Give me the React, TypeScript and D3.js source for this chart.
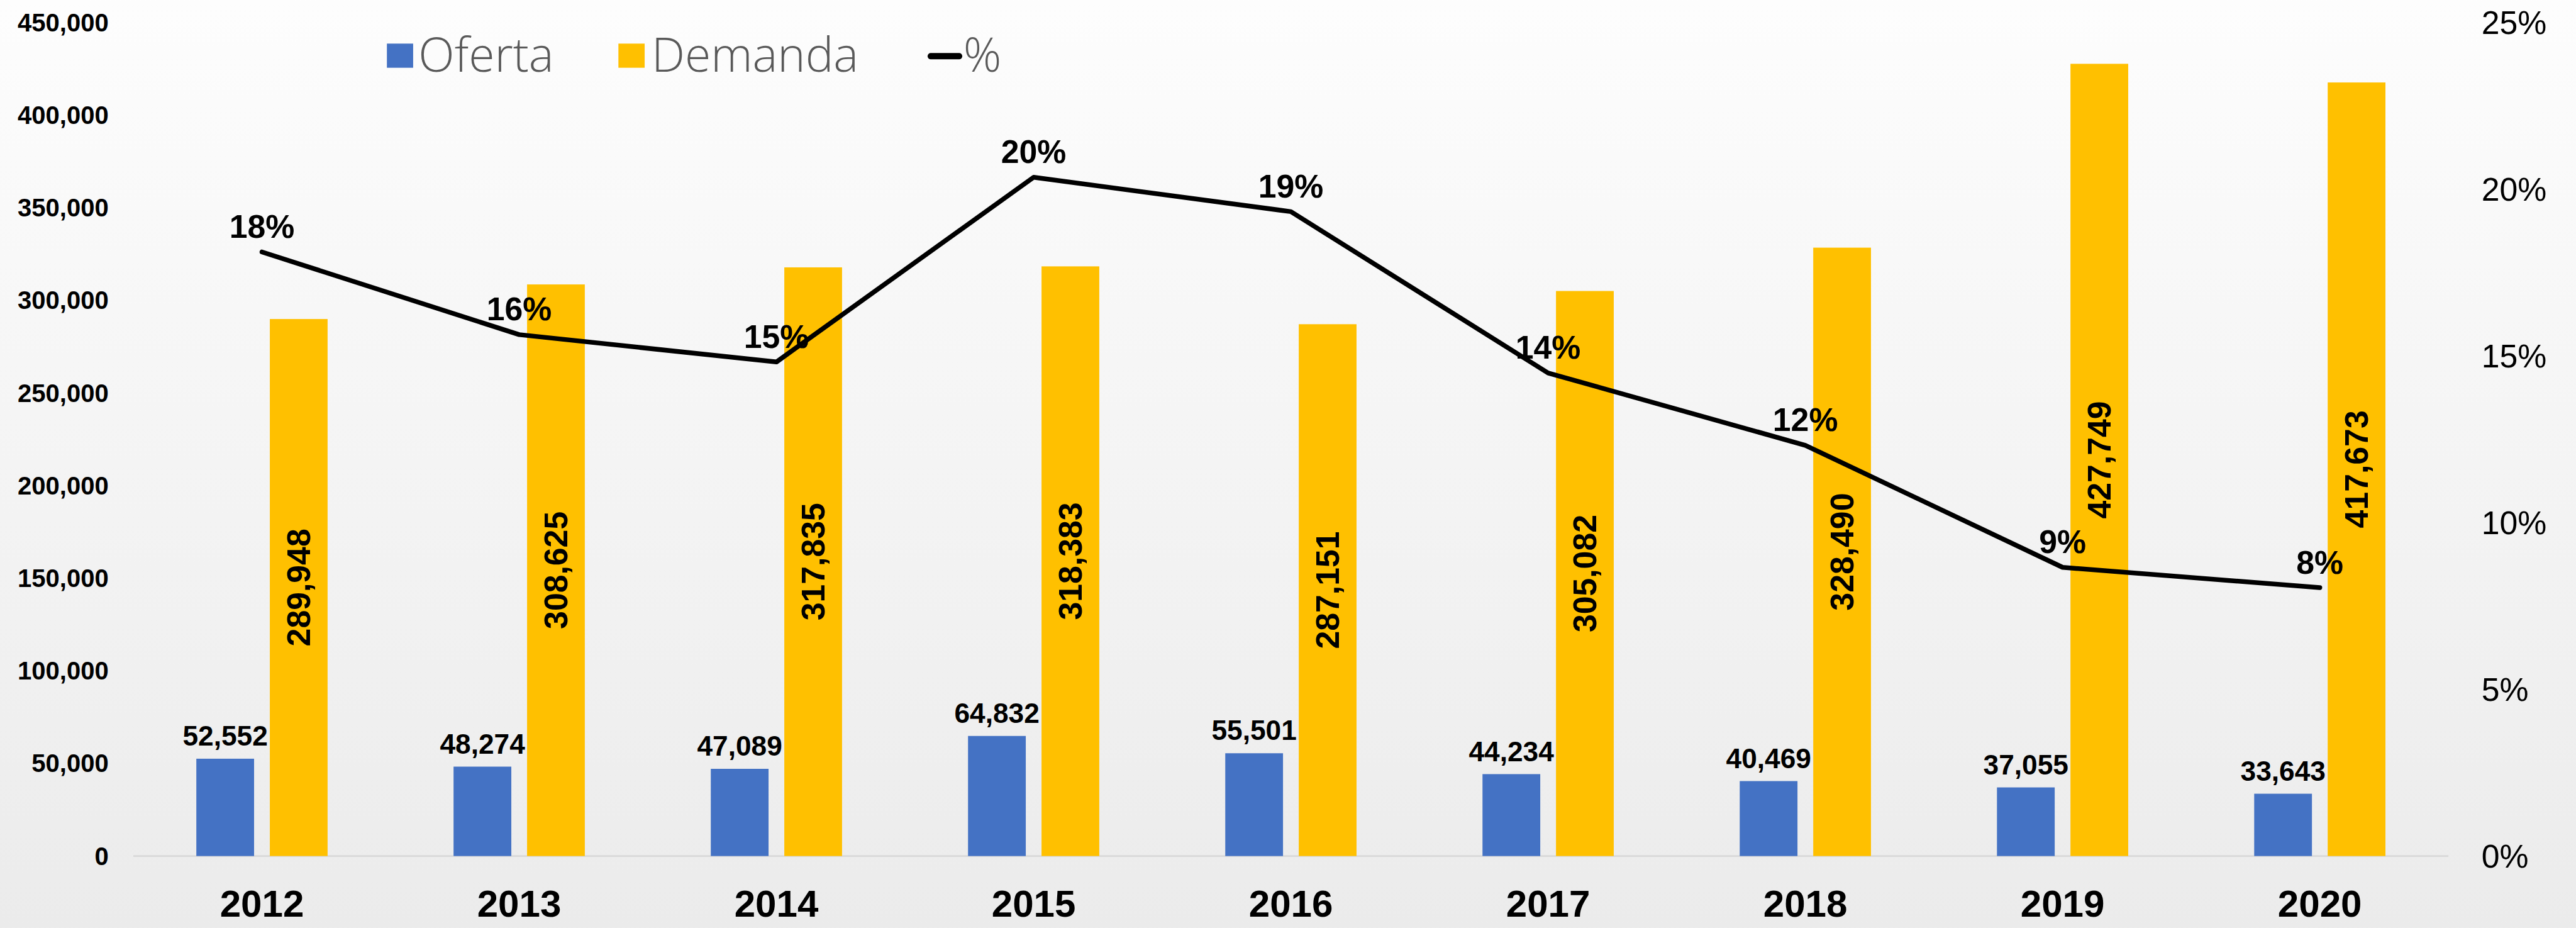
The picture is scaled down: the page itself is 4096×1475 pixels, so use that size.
import React, { useEffect, useRef } from "react";
import * as d3 from "d3";

// values
const years = ["2012", "2013", "2014", "2015", "2016", "2017", "2018", "2019", "2020"];
const oferta = [52552, 48274, 47089, 64832, 55501, 44234, 40469, 37055, 33643];
const demanda = [289948, 308625, 317835, 318383, 287151, 305082, 328490, 427749, 417673];
const pct = [0.1812, 0.1564, 0.1482, 0.2036, 0.1933, 0.1449, 0.1232, 0.0866, 0.0805];
const leftTicks = [0, 50000, 100000, 150000, 200000, 250000, 300000, 350000, 400000, 450000];
const rightTicks = [0, 0.05, 0.1, 0.15, 0.2, 0.25];
const seriesNames = ["Oferta", "Demanda"];
const colors = { Oferta: "#4472C4", Demanda: "#FFC000" };

const W = 4907, H = 1767;

export default function App() {
  const ref = useRef<SVGSVGElement>(null);

  useEffect(() => {
    const svg = d3.select(ref.current);
    svg.selectAll("*").remove();

    const left = 254, right = 4664, bottom = 1630, top = 43;

    const defs = svg.append("defs");
    const grad = defs.append("linearGradient").attr("id", "bg").attr("x1", 0).attr("y1", 0).attr("x2", 0).attr("y2", 1);
    grad.append("stop").attr("offset", "0%").attr("stop-color", "#fdfdfd");
    grad.append("stop").attr("offset", "100%").attr("stop-color", "#ebebeb");
    svg.append("rect").attr("width", W).attr("height", H).attr("fill", "url(#bg)");

    const x = d3.scaleBand().domain(years).range([left, right]);
    const xi = d3.scaleBand().domain(seriesNames).range([0, x.bandwidth()])
      .paddingInner(0.2143).paddingOuter(0.857);
    const y = d3.scaleLinear().domain([0, 450000]).range([bottom, top]);
    const yr = d3.scaleLinear().domain([0, 0.25]).range([bottom, top]);
    const fmt = d3.format(",");
    const pfmt = d3.format(".0%");

    // left axis labels
    svg.append("g").selectAll("text").data(leftTicks).join("text")
      .attr("x", 207).attr("y", d => y(d))
      .attr("text-anchor", "end").attr("dominant-baseline", "central")
      .attr("font-family", "Liberation Sans, Arial, sans-serif").attr("font-weight", "bold")
      .attr("font-size", 48).attr("fill", "#000")
      .text(d => fmt(d));

    // right axis labels
    svg.append("g").selectAll("text").data(rightTicks).join("text")
      .attr("x", 4727).attr("y", d => yr(d))
      .attr("dominant-baseline", "central")
      .attr("font-family", "Liberation Sans, Arial, sans-serif")
      .attr("font-size", 62).attr("fill", "#000")
      .text(d => pfmt(d));

    // baseline
    svg.append("line").attr("x1", left).attr("x2", right).attr("y1", bottom).attr("y2", bottom)
      .attr("stroke", "#d9d9d9").attr("stroke-width", 3);

    const groups = svg.append("g").selectAll("g").data(years).join("g")
      .attr("transform", d => `translate(${x(d)},0)`);

    // oferta bars + labels
    groups.append("rect")
      .attr("x", xi("Oferta")!).attr("width", xi.bandwidth())
      .attr("y", (d, i) => y(oferta[i])).attr("height", (d, i) => bottom - y(oferta[i]))
      .attr("fill", colors.Oferta);
    groups.append("text")
      .attr("x", xi("Oferta")! + xi.bandwidth() / 2).attr("y", (d, i) => y(oferta[i]) - 25)
      .attr("text-anchor", "middle")
      .attr("font-family", "Liberation Sans, Arial, sans-serif").attr("font-weight", "bold")
      .attr("font-size", 53).attr("fill", "#000")
      .text((d, i) => fmt(oferta[i]));

    // demanda bars + rotated labels
    groups.append("rect")
      .attr("x", xi("Demanda")!).attr("width", xi.bandwidth())
      .attr("y", (d, i) => y(demanda[i])).attr("height", (d, i) => bottom - y(demanda[i]))
      .attr("fill", colors.Demanda);
    groups.append("text")
      .attr("transform", (d, i) => {
        const cx = xi("Demanda")! + xi.bandwidth() / 2;
        const cy = (y(demanda[i]) + bottom) / 2;
        return `translate(${cx},${cy}) rotate(-90)`;
      })
      .attr("text-anchor", "middle").attr("dominant-baseline", "central")
      .attr("font-family", "Liberation Sans, Arial, sans-serif").attr("font-weight", "bold")
      .attr("font-size", 62).attr("fill", "#000")
      .text((d, i) => fmt(demanda[i]));

    // percent line
    const cx = (d: string) => x(d)! + x.bandwidth() / 2;
    const line = d3.line<number>().x((d, i) => cx(years[i])).y(d => yr(d));
    svg.append("path").datum(pct).attr("d", line)
      .attr("fill", "none").attr("stroke", "#000").attr("stroke-width", 9)
      .attr("stroke-linejoin", "round").attr("stroke-linecap", "round");
    svg.append("g").selectAll("text").data(pct).join("text")
      .attr("x", (d, i) => cx(years[i])).attr("y", d => yr(d) - 27)
      .attr("text-anchor", "middle")
      .attr("font-family", "Liberation Sans, Arial, sans-serif").attr("font-weight", "bold")
      .attr("font-size", 62).attr("fill", "#000")
      .text(d => pfmt(d));

    // year labels
    svg.append("g").selectAll("text").data(years).join("text")
      .attr("x", d => cx(d)).attr("y", 1745)
      .attr("text-anchor", "middle")
      .attr("font-family", "Liberation Sans, Arial, sans-serif").attr("font-weight", "bold")
      .attr("font-size", 72).attr("fill", "#000")
      .text(d => d);

    // legend
    const lg = svg.append("g").attr("font-family", "Open Sans, sans-serif").attr("font-weight", 300)
      .attr("font-size", 90).attr("fill", "#595959");
    lg.append("rect").attr("x", 737).attr("y", 83).attr("width", 50).attr("height", 46).attr("fill", colors.Oferta);
    lg.append("text").attr("x", 797).attr("y", 136).text("Oferta");
    lg.append("rect").attr("x", 1178).attr("y", 83).attr("width", 50).attr("height", 46).attr("fill", colors.Demanda);
    lg.append("text").attr("x", 1241).attr("y", 136).text("Demanda");
    lg.append("line").attr("x1", 1773).attr("x2", 1827).attr("y1", 107).attr("y2", 107)
      .attr("stroke", "#000").attr("stroke-width", 12).attr("stroke-linecap", "round");
    lg.append("text").attr("x", 1835).attr("y", 136).text("%");
  }, []);

  return (
    <svg ref={ref} width={4096} height={1475} viewBox={`0 0 ${W} ${H}`}
      style={{ position: "absolute", left: 0, top: 0, display: "block" }} />
  );
}
